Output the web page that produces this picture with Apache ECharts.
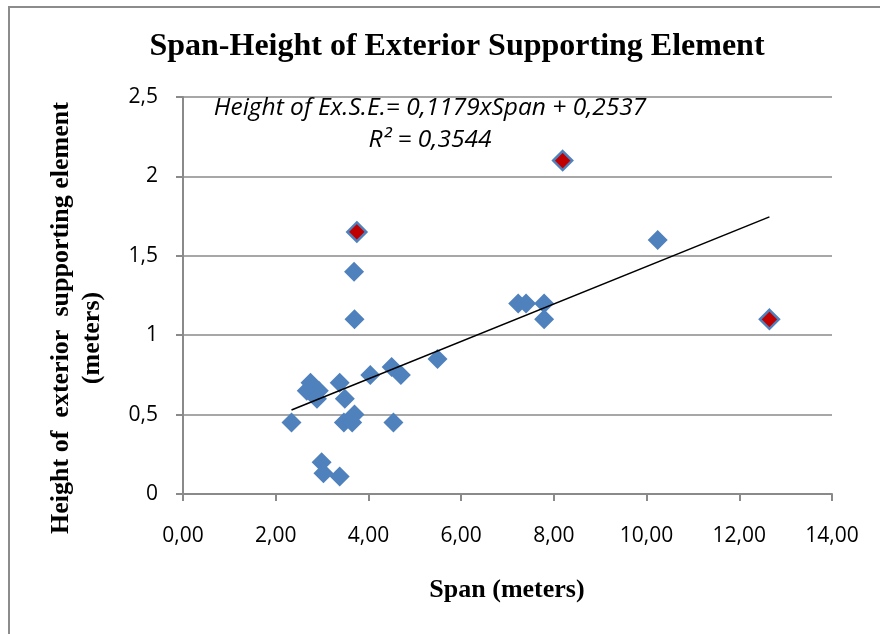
<!DOCTYPE html>
<html>
<head>
<meta charset="utf-8">
<script src="https://cdn.jsdelivr.net/npm/echarts@6/dist/echarts.min.js"></script>
<style>
  html, body { margin: 0; padding: 0; background: #fff; }
  #chart { width: 880px; height: 634px; }
</style>
</head>
<body>
<div id="chart"></div>
<script>
// Span (m) and height (m) of exterior supporting elements
const spanMain = [2.34, 2.75, 2.67, 2.93, 2.89, 2.99, 3.03, 3.38, 3.38, 3.49, 3.47, 3.65, 3.70, 3.70, 3.69, 4.04, 4.50, 4.70, 4.54, 5.49, 7.23, 7.40, 7.79, 7.79, 10.24];
const heightMain = [0.45, 0.70, 0.65, 0.65, 0.60, 0.20, 0.13, 0.11, 0.70, 0.60, 0.45, 0.45, 0.50, 1.10, 1.40, 0.75, 0.80, 0.75, 0.45, 0.85, 1.20, 1.20, 1.20, 1.10, 1.60];
// Highlighted cases
const spanHighlight = [3.75, 8.19, 12.65];
const heightHighlight = [1.65, 2.10, 1.10];

// Linear trend: Height = slope * Span + intercept
const trendSlope = 0.1179;
const trendIntercept = 0.2537;
const rSquared = 0.3544;

const xTicks = { min: 0, max: 14, interval: 2 };
const yTicks = { min: 0, max: 2.5, interval: 0.5 };

const allSpans = spanMain.concat(spanHighlight);
const xStart = Math.min(...allSpans);
const xEnd = Math.max(...allSpans);
const trendPoints = [
  [xStart, trendSlope * xStart + trendIntercept],
  [xEnd, trendSlope * xEnd + trendIntercept]
];

const comma = (s) => String(s).replace('.', ',');

const chart = echarts.init(document.getElementById('chart'));
const axisGrey = '#8a8a8a';
const tickFont = { fontFamily: 'Open Sans', fontSize: 21, color: '#000' };
const serifBold = { fontFamily: 'Liberation Serif', fontWeight: 'bold', fill: '#000', textAlign: 'center', textVerticalAlign: 'middle' };
const italicNote = { fontFamily: 'Open Sans', fontStyle: 'italic', fontSize: 24.5, fill: '#000', textAlign: 'center', textVerticalAlign: 'middle' };

chart.setOption({
  animation: false,
  backgroundColor: '#fff',
  grid: { left: 183, right: 48, top: 97, bottom: 140 },
  xAxis: {
    type: 'value',
    min: xTicks.min, max: xTicks.max, interval: xTicks.interval,
    axisLine: { lineStyle: { color: axisGrey, width: 2 } },
    axisTick: { show: true, inside: false, length: 7, lineStyle: { color: axisGrey, width: 2 } },
    axisLabel: Object.assign({ margin: 32, formatter: (v) => comma(v.toFixed(2)) }, tickFont),
    splitLine: { show: false }
  },
  yAxis: {
    type: 'value',
    min: yTicks.min, max: yTicks.max, interval: yTicks.interval,
    axisLine: { show: true, lineStyle: { color: axisGrey, width: 2 } },
    axisTick: { show: true, inside: false, length: 7, lineStyle: { color: axisGrey, width: 2 } },
    axisLabel: Object.assign({ margin: 25, formatter: (v) => comma(v) }, tickFont),
    splitLine: { show: true, lineStyle: { color: axisGrey, width: 1.5 } }
  },
  series: [
    {
      type: 'scatter',
      symbol: 'diamond',
      symbolSize: 20,
      itemStyle: { color: '#4F81BD', opacity: 1 },
      data: spanMain.map((x, i) => [x, heightMain[i]]),
      z: 3
    },
    {
      type: 'scatter',
      symbol: 'diamond',
      symbolSize: 19,
      itemStyle: { color: '#C00000', borderColor: '#4F81BD', borderWidth: 2.5, opacity: 1 },
      data: spanHighlight.map((x, i) => [x, heightHighlight[i]]),
      z: 4
    },
    {
      type: 'line',
      data: trendPoints,
      symbol: 'none',
      lineStyle: { color: '#000', width: 1.6 },
      z: 5
    }
  ],
  graphic: [
    {
      type: 'rect',
      shape: { x: 9, y: 7, width: 1000, height: 1000 },
      style: { fill: 'none', stroke: '#8c8c8c', lineWidth: 2 },
      silent: true
    },
    {
      type: 'text',
      x: 457, y: 47,
      style: Object.assign({ text: 'Span-Height of Exterior Supporting Element', fontSize: 32 }, serifBold)
    },
    {
      type: 'text',
      x: 430, y: 108,
      style: Object.assign({ text: 'Height of Ex.S.E.= ' + comma(trendSlope) + 'xSpan + ' + comma(trendIntercept) }, italicNote),
      z: 10
    },
    {
      type: 'text',
      x: 430, y: 140,
      style: Object.assign({ text: 'R² = ' + comma(rSquared) }, italicNote),
      z: 10
    },
    {
      type: 'text',
      x: 507, y: 590,
      style: Object.assign({ text: 'Span (meters)', fontSize: 26 }, serifBold)
    },
    {
      type: 'text',
      x: 61, y: 318, rotation: Math.PI / 2,
      style: Object.assign({ text: 'Height of  exterior  supporting element', fontSize: 26 }, serifBold)
    },
    {
      type: 'text',
      x: 92, y: 338, rotation: Math.PI / 2,
      style: Object.assign({ text: '(meters)', fontSize: 26 }, serifBold)
    }
  ]
});
</script>
</body>
</html>
